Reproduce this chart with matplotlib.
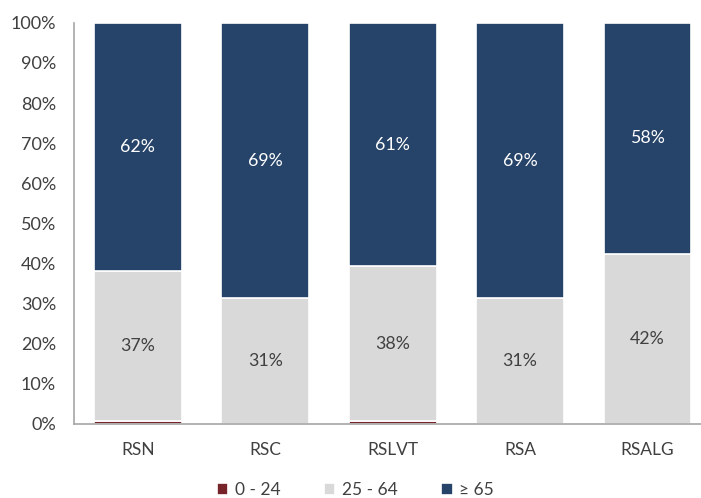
import matplotlib
matplotlib.use("Agg")
import matplotlib.pyplot as plt
import numpy as np

categories = ["RSN", "RSC", "RSLVT", "RSA", "RSALG"]
series_names = ["0 - 24", "25 - 64", "\u2265 65"]
v_0_24 = [0.8, 0.1, 0.8, 0.1, 0.1]
v_25_64 = [37.4, 31.2, 38.5, 31.2, 42.4]
v_65 = [61.8, 68.7, 60.7, 68.7, 57.5]
labels_25_64 = ["37%", "31%", "38%", "31%", "42%"]
labels_65 = ["62%", "69%", "61%", "69%", "58%"]
colors = ["#76232A", "#D9D9D9", "#264469"]

plt.rcParams['font.family'] = ['Lato', 'DejaVu Sans']

fig = plt.figure(figsize=(7.01, 4.98), dpi=100)
ax = fig.add_axes([0.1056, 0.1486, 0.909, 0.8055])

x = np.arange(len(categories))
w = 0.69
b1 = ax.bar(x, v_0_24, w, color=colors[0], edgecolor="white", linewidth=1.2, label=series_names[0])
b2 = ax.bar(x, v_25_64, w, bottom=v_0_24, color=colors[1], edgecolor="white", linewidth=1.2, label=series_names[1])
bot3 = np.array(v_0_24) + np.array(v_25_64)
b3 = ax.bar(x, v_65, w, bottom=bot3, color=colors[2], edgecolor="white", linewidth=1.2, label=series_names[2])

for i in range(len(categories)):
    ax.text(x[i], v_0_24[i] + v_25_64[i] / 2, labels_25_64[i], ha="center", va="center",
            fontsize=12.8, color="#404040")
    ax.text(x[i], bot3[i] + v_65[i] / 2, labels_65[i], ha="center", va="center",
            fontsize=12.8, color="white")

ax.set_xlim(-0.5, 4.5)
ax.set_ylim(0, 100)
ax.set_yticks(np.arange(0, 101, 10))
ax.set_yticklabels([f"{t}%" for t in range(0, 101, 10)], fontsize=13, color="#404040")
ax.set_xticks(x)
ax.set_xticklabels(categories, fontsize=12.5, color="#404040")
ax.tick_params(axis="both", length=0)
ax.tick_params(axis="y", pad=13)
ax.tick_params(axis="x", pad=13)
for s in ["top", "right"]:
    ax.spines[s].set_visible(False)
for s in ["left", "bottom"]:
    ax.spines[s].set_color("#A6A6A6")
    ax.spines[s].set_linewidth(1.2)

leg = fig.legend(handles=[b1, b2, b3], labels=series_names, loc="center", bbox_to_anchor=(0.507, 0.016),
                 ncol=3, frameon=False, fontsize=12.5, handlelength=0.65, handleheight=0.65,
                 columnspacing=2.5, handletextpad=0.4, labelcolor="#404040")

fig.savefig("out.png", dpi=100)
